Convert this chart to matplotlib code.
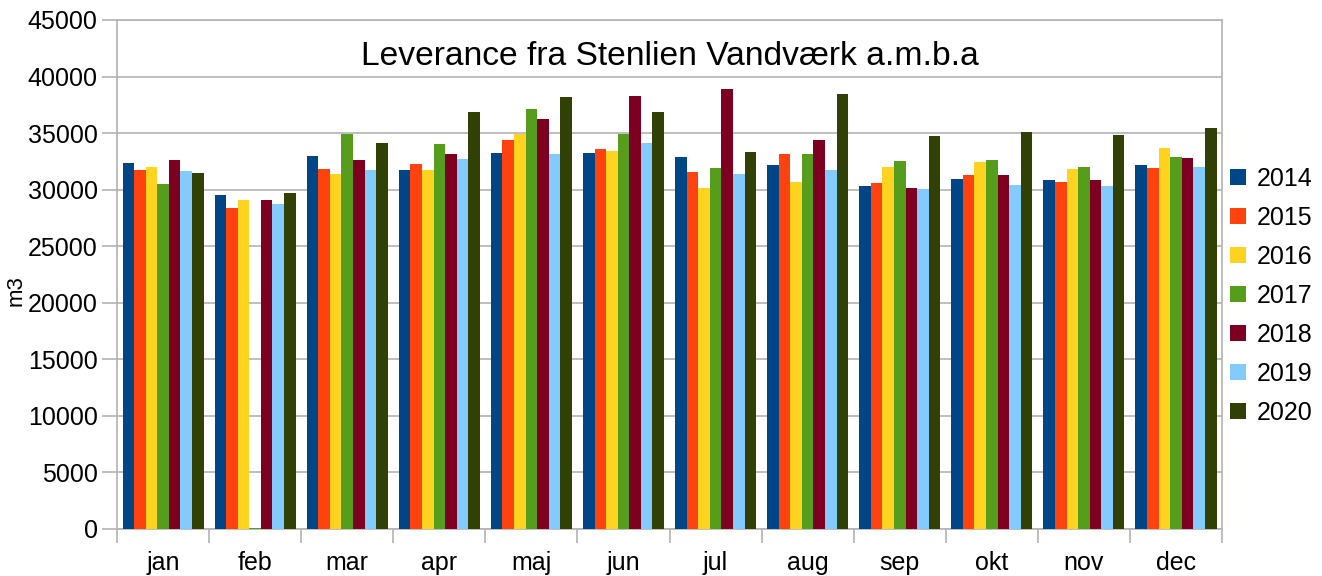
import matplotlib
matplotlib.use('Agg')
import matplotlib.pyplot as plt
import numpy as np

plt.rcParams['font.family'] = ['Liberation Sans', 'DejaVu Sans']

# data (m3 per month)
months = ['jan', 'feb', 'mar', 'apr', 'maj', 'jun', 'jul', 'aug', 'sep', 'okt', 'nov', 'dec']
years = ['2014', '2015', '2016', '2017', '2018', '2019', '2020']

v2014 = [32360, 29530, 32980, 31740, 33240, 33240, 32890, 32180, 30320, 30940, 30850, 32180]
v2015 = [31740, 28380, 31830, 32270, 34390, 33600, 31560, 33150, 30590, 31300, 30680, 31920]
v2016 = [32000, 29090, 31390, 31740, 34920, 33420, 30150, 30680, 32000, 32450, 31830, 33680]
v2017 = [30500, 120, 34920, 34040, 37130, 34920, 31920, 33150, 32540, 32620, 32000, 32890]
v2018 = [32620, 29090, 32620, 33160, 36250, 38280, 38900, 34390, 30150, 31300, 30850, 32800]
v2019 = [31650, 28730, 31740, 32710, 33150, 34130, 31390, 31740, 30060, 30410, 30320, 32000]
v2020 = [31470, 29700, 34130, 36870, 38190, 36870, 33330, 38460, 34750, 35100, 34830, 35450]

series = [v2014, v2015, v2016, v2017, v2018, v2019, v2020]
colors = ['#004586', '#ff420e', '#ffd320', '#579d1c', '#7e0021', '#83caff', '#314004']

fig = plt.figure(figsize=(13.22, 5.76), dpi=100)
ax = fig.add_axes([0.0885, 0.0816, 0.8359, 0.8837])

x = np.arange(len(months))
w = 0.88 / len(series)
for i, vals in enumerate(series):
    ax.bar(x + (i - 3) * w, vals, width=w, color=colors[i], label=years[i], zorder=3)

grid_c = '#b3b3b3'
ax.set_xlim(-0.5, 11.5)
ax.set_ylim(0, 45000)
ax.set_yticks(range(0, 45001, 5000))
ax.yaxis.grid(True, color=grid_c, linewidth=1.2, zorder=0)
ax.tick_params(axis='y', labelsize=18, length=11, color=grid_c, width=1.2, pad=3)

# category boundaries as major ticks, labels on minor ticks
ax.set_xticks(np.arange(-0.5, 12, 1))
ax.set_xticklabels([])
ax.set_xticks(x, minor=True)
ax.set_xticklabels(months, minor=True, fontsize=18)
ax.tick_params(axis='x', which='major', length=10, color=grid_c, width=1.2)
ax.tick_params(axis='x', which='minor', length=0, pad=16)

for s in ax.spines.values():
    s.set_color(grid_c)
    s.set_linewidth(1.2)

ax.set_ylabel('m3', fontsize=16, labelpad=1)
ax.yaxis.set_label_coords(-0.082, 0.468)
ax.text(0.5, 0.928, 'Leverance fra Stenlien Vandværk a.m.b.a', transform=ax.transAxes,
        ha='center', va='center', fontsize=24.2)

ax.legend(loc='center left', bbox_to_anchor=(0.9985, 0.458), frameon=False, fontsize=18,
          handlelength=0.62, handleheight=0.62, handletextpad=0.45, labelspacing=0.6,
          borderaxespad=0)

fig.savefig('out.png', dpi=100)
